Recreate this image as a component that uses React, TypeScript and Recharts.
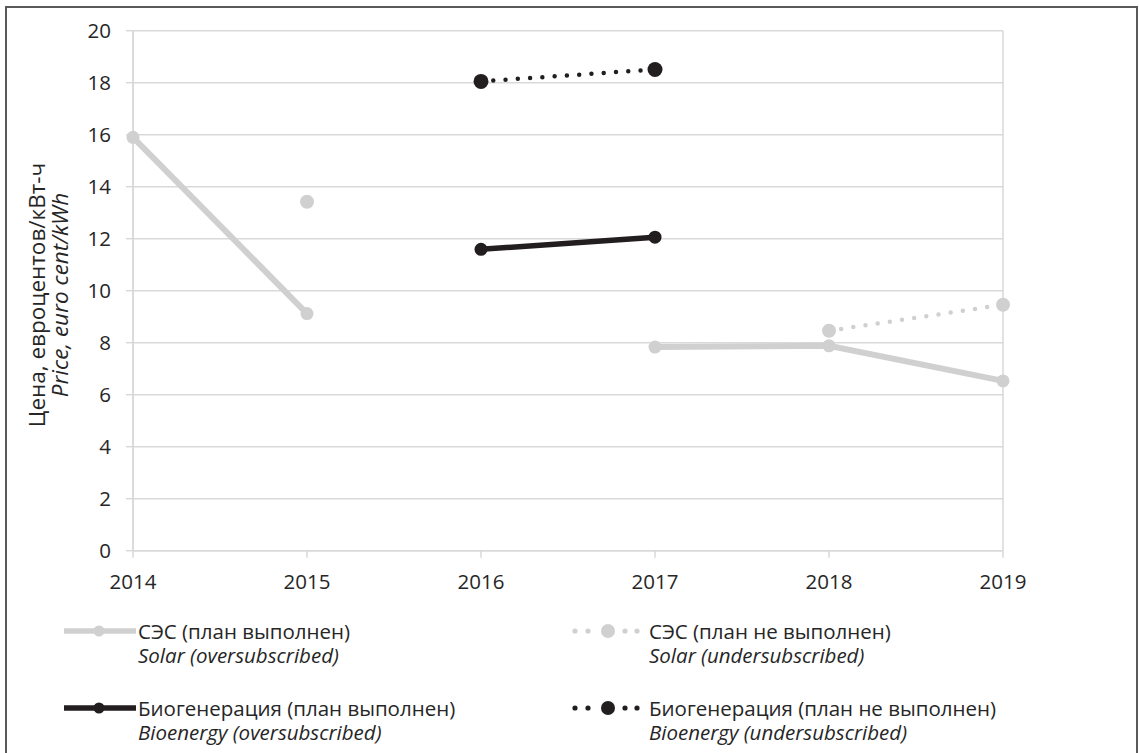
import React from "react";
import { CartesianGrid, Line, LineChart, XAxis, YAxis } from "recharts";

const years = [2014, 2015, 2016, 2017, 2018, 2019];
const solarOver = [15.9, 9.12, null, 7.83, 7.88, 6.53];
const solarUnder = [null, 13.42, null, null, 8.46, 9.46];
const bioOver = [null, null, 11.59, 12.06, null, null];
const bioUnder = [null, null, 18.05, 18.51, null, null];
const yTicks = [0, 2, 4, 6, 8, 10, 12, 14, 16, 18, 20];

const data = years.map((year, i) => ({
  year,
  solarOver: solarOver[i],
  solarUnder: solarUnder[i],
  bioOver: bioOver[i],
  bioUnder: bioUnder[i],
}));

const FONT = "'Open Sans', sans-serif";
const TEXT = "#262626";
const GRID = "#d9d9d9";
const GRAY = "#d0d0d1";
const BLACK = "#221e1f";
const FS = 20.5;

function YTitle() {
  const cy = 295;
  return (
    <g fontFamily={FONT} fontSize={22.5} fill={TEXT}>
      <text x={45} y={cy} textAnchor="middle" transform={`rotate(-90 45 ${cy})`}>
        Цена, евроцентов/кВт-ч
      </text>
      <text x={68} y={cy} textAnchor="middle" fontStyle="italic" transform={`rotate(-90 68 ${cy})`}>
        Price, euro cent/kWh
      </text>
    </g>
  );
}

function LegendIcon({ color, dotted }: { color: string; dotted: boolean }) {
  if (dotted) {
    return (
      <svg width={80} height={16} style={{ display: "block" }}>
        {[6, 19, 56, 68].map((x) => (
          <circle key={x} cx={x} cy={8} r={2.6} fill={color} />
        ))}
        <circle cx={39} cy={8} r={7} fill={color} />
      </svg>
    );
  }
  return (
    <svg width={80} height={16} style={{ display: "block" }}>
      <line x1={7} y1={8} x2={79} y2={8} stroke={color} strokeWidth={5.5} />
      <circle cx={42} cy={8} r={5.5} fill={color} />
    </svg>
  );
}

function LegendItem({ ru, en, color, dotted, left, textLeft, top }: any) {
  return (
    <div style={{ position: "absolute", left, top, fontFamily: FONT, fontSize: 20.5, color: TEXT, lineHeight: "24px" }}>
      <div style={{ position: "absolute", left: 0, top: 4 }}>
        <LegendIcon color={color} dotted={dotted} />
      </div>
      <div style={{ marginLeft: textLeft - left, whiteSpace: "nowrap" }}>{ru}</div>
      <div style={{ marginLeft: textLeft - left, whiteSpace: "nowrap", fontStyle: "italic" }}>{en}</div>
    </div>
  );
}

export default function App() {
  return (
    <div style={{ position: "absolute", left: 0, top: 0, width: 1139, height: 753, overflow: "hidden", background: "#fff" }}>
      <div style={{ position: "absolute", left: 5, top: 6, width: 1129, height: 770, border: "2px solid #595959" }} />
      <div style={{ position: "absolute", left: 0, top: 0 }}>
        <LineChart width={1139} height={600} data={data} margin={{ top: 30.7, right: 136, left: 0, bottom: 0 }}>
          <CartesianGrid
            stroke={GRID}
            strokeWidth={1.5}
            verticalCoordinatesGenerator={({ offset }: any) => [offset.left, offset.left + offset.width]}
          />
          <XAxis
            dataKey="year"
            type="number"
            domain={[2014, 2019]}
            ticks={years}
            height={49.3}
            axisLine={{ stroke: GRID, strokeWidth: 1.5 }}
            tickLine={{ stroke: GRID, strokeWidth: 1.5 }}
            tickSize={7}
            tickMargin={17}
            tick={{ fill: TEXT, fontSize: FS, fontFamily: FONT }}
          />
          <YAxis
            type="number"
            domain={[0, 20]}
            ticks={yTicks}
            width={133}
            axisLine={{ stroke: GRID, strokeWidth: 1.5 }}
            tickLine={{ stroke: GRID, strokeWidth: 1.5 }}
            tickSize={7}
            tickMargin={15}
            tick={{ fill: TEXT, fontSize: FS, fontFamily: FONT }}
            label={<YTitle />}
          />
          <Line
            dataKey="solarOver"
            stroke={GRAY}
            strokeWidth={6}
            dot={{ r: 6.5, fill: GRAY, stroke: "none" }}
            isAnimationActive={false}
          />
          <Line
            dataKey="solarUnder"
            stroke={GRAY}
            strokeWidth={4.5}
            strokeLinecap="round"
            strokeDasharray="0 12.3"
            dot={{ r: 7, fill: GRAY, stroke: "none" }}
            isAnimationActive={false}
          />
          <Line
            dataKey="bioOver"
            stroke={BLACK}
            strokeWidth={5.5}
            dot={{ r: 6.5, fill: BLACK, stroke: "none" }}
            isAnimationActive={false}
          />
          <Line
            dataKey="bioUnder"
            stroke={BLACK}
            strokeWidth={4.5}
            strokeLinecap="round"
            strokeDasharray="0 12.3"
            dot={{ r: 7.5, fill: BLACK, stroke: "none" }}
            isAnimationActive={false}
          />
        </LineChart>
      </div>
      <LegendItem ru="СЭС (план выполнен)" en="Solar (oversubscribed)" color={GRAY} dotted={false} left={57} textLeft={138} top={619} />
      <LegendItem ru="СЭС (план не выполнен)" en="Solar (undersubscribed)" color={GRAY} dotted={true} left={569} textLeft={649} top={619} />
      <LegendItem ru="Биогенерация (план выполнен)" en="Bioenergy (oversubscribed)" color={BLACK} dotted={false} left={57} textLeft={138} top={696} />
      <LegendItem ru="Биогенерация (план не выполнен)" en="Bioenergy (undersubscribed)" color={BLACK} dotted={true} left={569} textLeft={649} top={696} />
    </div>
  );
}
